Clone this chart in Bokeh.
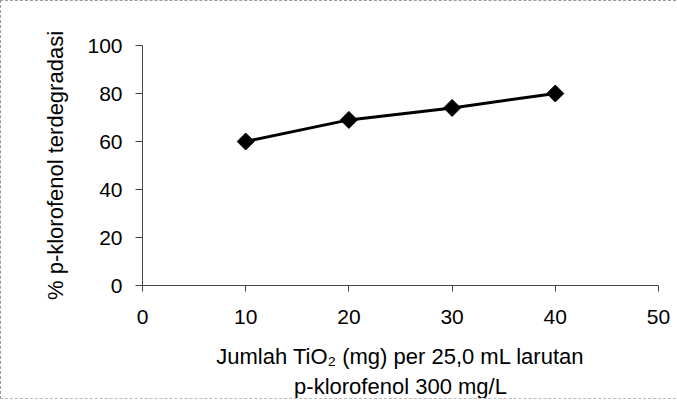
import math
from bokeh.plotting import figure
from bokeh.models import Range1d, FixedTicker, Title, ColumnDataSource
from bokeh.embed import file_html
from bokeh.resources import INLINE

# data
tio2_mg = [10, 20, 30, 40]
percent_degraded = [60, 69, 74, 80]
x_ticks = [0, 10, 20, 30, 40, 50]
y_ticks = [0, 20, 40, 60, 80, 100]
x_label_1 = "Jumlah TiO\u2082 (mg) per 25,0 mL larutan"
x_label_2 = "p-klorofenol 300 mg/L"
y_label = "% p-klorofenol terdegradasi"

FONT = "Liberation Sans"

p = figure(
    frame_width=516, frame_height=240,
    min_border_left=141, min_border_right=18, min_border_top=44, min_border_bottom=40,
    x_range=Range1d(0, 50), y_range=Range1d(0, 100),
    output_backend="svg", toolbar_location=None,
)
p.styles = {"border-left": "1px dashed #999", "border-top": "1px dashed #999",
            "border-bottom": "1px dashed #bbb"}
p.outline_line_color = None
p.xgrid.visible = False
p.ygrid.visible = False
p.background_fill_color = "white"
p.border_fill_color = "white"

src = ColumnDataSource(dict(x=tio2_mg, y=percent_degraded))
p.line("x", "y", source=src, line_color="black", line_width=3)
p.scatter("x", "y", source=src, marker="square", size=12, angle=math.pi / 4,
          fill_color="black", line_color="black")

for ax in (p.xaxis[0], p.yaxis[0]):
    ax.axis_line_color = "#444"
    ax.axis_line_width = 1
    ax.major_tick_line_color = "#444"
    ax.minor_tick_line_color = None
    ax.major_tick_in = 0
    ax.major_label_text_font = FONT
    ax.major_label_text_font_size = "21px"
    ax.major_label_text_color = "black"
    ax.axis_label_text_font = FONT
    ax.axis_label_text_font_size = "22px"
    ax.axis_label_text_font_style = "normal"
    ax.axis_label_text_color = "black"

p.xaxis.ticker = FixedTicker(ticks=x_ticks)
p.yaxis.ticker = FixedTicker(ticks=y_ticks)
p.xaxis.major_tick_out = 6
p.yaxis.major_tick_out = 7
p.xaxis.major_label_standoff = 18
p.yaxis.major_label_standoff = 13
p.yaxis.axis_label = y_label
p.yaxis.axis_label_standoff = 16
p.xaxis.axis_label = x_label_1
p.xaxis.axis_label_standoff = 17

t2 = Title(text=x_label_2, align="center", text_font=FONT, text_font_size="22px",
           text_font_style="normal", text_color="black", standoff=0, offset=0)
p.add_layout(t2, "below")

open("out.html", "w").write(file_html(p, INLINE))
